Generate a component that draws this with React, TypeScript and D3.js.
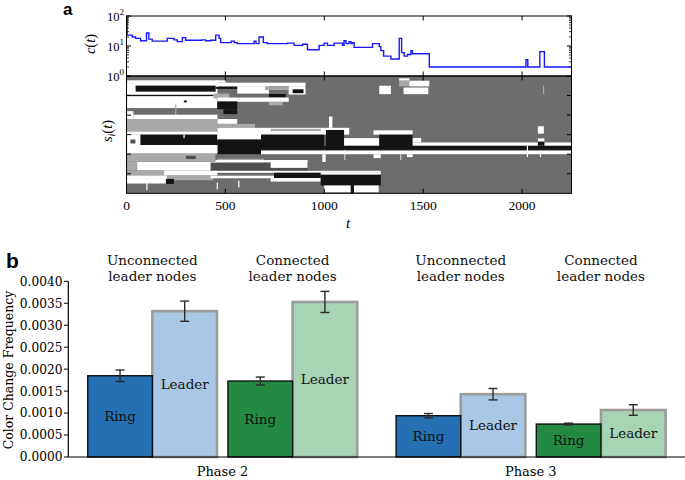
import * as d3 from 'd3';
import { useEffect, useRef } from 'react';

const WIDTH = 685;
const HEIGHT = 480;

// ---- panel a: number of colours c(t) ----
const cTimes = [0, 3, 29, 46, 71, 101, 113, 130, 206, 240, 257, 282, 299, 380, 400, 425, 451, 468, 476, 530,
  545, 560, 630, 645, 655, 670, 692, 712, 814, 847, 890, 915, 974, 999, 1016, 1050, 1092, 1100, 1110, 1125,
  1135, 1142, 1151, 1244, 1278, 1286, 1300, 1337, 1379, 1391, 1404, 1421, 1438, 1446, 1531, 2020, 2029, 2090, 2113, 2250];
const cValues = [80, 23, 20, 18, 15, 27, 17, 14.5, 18, 16, 14, 19, 15.5, 16, 15, 15.5, 23, 18, 13, 14.5,
  13, 12, 12, 14.5, 12, 20, 13, 12, 12.5, 10.5, 11.5, 7.5, 10.5, 12.5, 10.5, 12.5, 10.5, 15, 12, 14,
  12, 13, 9, 12, 9.5, 7, 4.6, 3.7, 18, 6, 4.6, 5.2, 7, 5.5, 2, 3.5, 2, 6.5, 2, 2];

// ---- panel a: node states s_i(t) : [tStart, tEnd, rowStart, rowEnd, state] ----
const rasterCells: [number, number, number, number, string][] = [
  [3, 460, 2.2, 16.4, 'W'],
  [46, 451, 4.9, 8.0, 'B'],
  [3, 440, 9.6, 10.3, 'B'],
  [451, 500, 2.2, 3.4, 'W'],
  [451, 905, 3.4, 5.2, 'W'],
  [451, 590, 5.6, 6.6, 'B'],
  [560, 720, 5.2, 9.0, 'W'],
  [700, 820, 5.3, 7.2, 'L'],
  [820, 905, 5.2, 9.5, 'W'],
  [840, 895, 6.8, 8.8, 'B'],
  [440, 520, 9.0, 11.5, 'L'],
  [720, 805, 9.2, 11.0, 'B'],
  [460, 820, 11.0, 13.2, 'W'],
  [720, 790, 13.2, 15.0, 'L'],
  [459, 560, 13.0, 17.0, 'B'],
  [490, 560, 17.0, 19.5, 'B'],
  [290, 305, 12.5, 13.5, 'B'],
  [246, 252, 14.5, 22.0, 'L'],
  [3, 35, 18.0, 24.0, 'W'],
  [35, 460, 19.8, 22.0, 'W'],
  [3, 460, 22.0, 28.4, 'L'],
  [3, 460, 28.4, 30.0, 'W'],
  [460, 560, 22.0, 24.5, 'W'],
  [460, 650, 24.5, 26.5, 'L'],
  [460, 1126, 26.5, 30.0, 'W'],
  [729, 982, 27.0, 28.2, 'L'],
  [1024, 1041, 20.7, 26.5, 'W'],
  [3, 71, 30.0, 35.3, 'W'],
  [71, 459, 30.0, 35.3, 'B'],
  [20, 45, 32.5, 34.5, 'D'],
  [288, 294, 30.0, 31.8, 'W'],
  [459, 680, 29.5, 32.5, 'W'],
  [459, 680, 32.5, 40.0, 'B'],
  [680, 1000, 30.0, 37.8, 'B'],
  [1008, 1100, 27.6, 37.8, 'B'],
  [1100, 1278, 31.8, 35.7, 'W'],
  [1249, 1447, 27.8, 30.0, 'W'],
  [1278, 1447, 30.0, 37.0, 'B'],
  [1447, 1490, 31.7, 34.0, 'W'],
  [1447, 2250, 34.0, 35.7, 'W'],
  [1000, 2250, 35.7, 37.8, 'B'],
  [3, 460, 35.3, 39.7, 'W'],
  [680, 2250, 38.2, 40.0, 'W'],
  [3, 450, 39.7, 43.9, 'L'],
  [300, 350, 40.8, 42.5, 'D'],
  [459, 695, 42.3, 44.5, 'L'],
  [990, 1007, 40.0, 44.0, 'W'],
  [1249, 1286, 40.0, 42.0, 'W'],
  [1418, 1447, 40.0, 41.5, 'W'],
  [1102, 1106, 37.8, 43.0, 'W'],
  [1385, 1389, 40.0, 43.0, 'W'],
  [2024, 2030, 35.7, 41.5, 'W'],
  [2090, 2096, 40.0, 41.5, 'W'],
  [2080, 2110, 25.7, 29.5, 'W'],
  [2080, 2113, 31.9, 33.6, 'W'],
  [2080, 2113, 33.6, 35.7, 'B'],
  [2106, 2112, 5.0, 9.3, 'L'],
  [1278, 1337, 5.0, 9.3, 'W'],
  [1379, 1430, 1.2, 5.3, 'L'],
  [1379, 1430, 1.2, 2.2, 'W'],
  [1430, 1531, 2.4, 5.3, 'W'],
  [1401, 1526, 5.9, 9.3, 'W'],
  [3, 54, 44.0, 48.3, 'L'],
  [54, 459, 44.0, 48.3, 'W'],
  [3, 190, 48.3, 50.9, 'L'],
  [190, 459, 48.3, 50.9, 'W'],
  [3, 206, 50.9, 55.0, 'W'],
  [206, 440, 50.9, 53.3, 'L'],
  [199, 240, 52.6, 55.2, 'B'],
  [100, 106, 54.5, 58.5, 'W'],
  [456, 462, 54.5, 58.0, 'W'],
  [565, 571, 53.5, 57.0, 'W'],
  [450, 915, 43.0, 44.3, 'W'],
  [425, 915, 44.3, 48.5, 'D'],
  [729, 915, 43.0, 47.0, 'W'],
  [425, 1286, 48.5, 49.5, 'W'],
  [425, 746, 51.0, 52.3, 'W'],
  [746, 982, 49.5, 52.2, 'B'],
  [729, 982, 52.2, 54.0, 'W'],
  [982, 1286, 49.5, 50.5, 'W'],
  [982, 1286, 50.5, 56.0, 'B'],
  [1000, 1134, 56.0, 59.5, 'W'],
  [1150, 1275, 56.0, 59.5, 'W'],
  [1134, 1150, 55.0, 60.0, 'B'],
];
const stateColors: Record<string, string> = {
  W: '#ffffff',
  B: '#131313',
  L: '#a9a9a9',
  D: '#4e4e4e',
};
const tTicks = [0, 500, 1000, 1500, 2000];
const rowTicks = [10, 20, 30, 40, 50];
const cMajorTicks = [1, 10, 100];
const cExponents = ['0', '1', '2'];

// ---- panel b: colour change frequency ----
const phases = ['Phase 2', 'Phase 3'];
const groups = ['unconnected', 'connected'];
const groupLabels = [['Unconnected', 'leader nodes'], ['Connected', 'leader nodes']];
const kinds = ['Ring', 'Leader'];
// order: Phase 2 unconnected, Phase 2 connected, Phase 3 unconnected, Phase 3 connected
const ringMeans = [0.00185, 0.00173, 0.00094, 0.00075];
const ringErrors = [0.00013, 0.00009, 0.00005, 0.00002];
const leaderMeans = [0.00332, 0.00353, 0.00143, 0.00107];
const leaderErrors = [0.00023, 0.00024, 0.00013, 0.00012];
const freqTicks = [0, 0.0005, 0.001, 0.0015, 0.002, 0.0025, 0.003, 0.0035, 0.004];

const ringColors = ['#2470b3', '#248a42'];
const leaderColors = ['#a8c8e5', '#a6d4b4'];
const serif = "'DejaVu Serif', serif";
const mathSerif = "'Liberation Serif', 'Times New Roman', serif";

function App() {
  const svgElement = useRef<SVGSVGElement | null>(null);

  useEffect(() => {
    if (svgElement.current) {
      drawChart();
    }
  }, []);

  const drawChart = () => {
    const svg = d3.select(svgElement.current);
    svg.selectAll('*').remove();

    const tX = d3.scaleLinear().domain([0, 2250]).range([126.5, 571.5]);
    const cY = d3.scaleLog().domain([1, 100]).range([76, 16]);
    const rowY = d3.scaleLinear().domain([0, 60]).range([76, 193.3]);

    const a = svg.append('g');

    // raster
    a.append('rect')
      .attr('x', tX(0))
      .attr('y', rowY(0))
      .attr('width', tX(2250) - tX(0))
      .attr('height', rowY(60) - rowY(0))
      .attr('fill', '#6d6d6d');

    a.append('g')
      .selectAll('rect')
      .data(rasterCells)
      .join('rect')
      .attr('x', (d) => tX(d[0]))
      .attr('y', (d) => rowY(d[2]))
      .attr('width', (d) => tX(d[1]) - tX(d[0]))
      .attr('height', (d) => rowY(d[3]) - rowY(d[2]))
      .attr('fill', (d) => stateColors[d[4]]);

    // c(t) line
    svg.append('clipPath')
      .attr('id', 'topClip')
      .append('rect')
      .attr('x', tX(0))
      .attr('y', cY(100))
      .attr('width', tX(2250) - tX(0))
      .attr('height', cY(1) - cY(100));

    const line = d3.line<number>()
      .x((d, i) => tX(cTimes[i]))
      .y((d) => cY(d))
      .curve(d3.curveStepAfter);

    a.append('path')
      .attr('clip-path', 'url(#topClip)')
      .attr('d', line(cValues) as string)
      .attr('fill', 'none')
      .attr('stroke', '#1616ff')
      .attr('stroke-width', 1.4);

    // frames
    const frames = [[cY(100), cY(1)], [rowY(0), rowY(60)]];
    frames.forEach(([y0, y1]) => {
      a.append('rect')
        .attr('x', tX(0))
        .attr('y', y0)
        .attr('width', tX(2250) - tX(0))
        .attr('height', y1 - y0)
        .attr('fill', 'none')
        .attr('stroke', '#000')
        .attr('stroke-width', 1);

      a.append('g')
        .selectAll('line')
        .data(tTicks.slice(1))
        .join('line')
        .attr('x1', (d) => tX(d))
        .attr('x2', (d) => tX(d))
        .attr('y1', y0)
        .attr('y2', y0 + 4.5)
        .attr('stroke', '#000');

      a.append('g')
        .selectAll('line')
        .data(tTicks.slice(1))
        .join('line')
        .attr('x1', (d) => tX(d))
        .attr('x2', (d) => tX(d))
        .attr('y1', y1)
        .attr('y2', y1 - 4.5)
        .attr('stroke', '#000');
    });

    // log ticks on top panel
    const minor = cY.ticks().filter((d) => !cMajorTicks.includes(d));
    [tX(0), tX(2250)].forEach((x, side) => {
      const dir = side === 0 ? 1 : -1;
      a.append('g')
        .selectAll('line')
        .data(minor)
        .join('line')
        .attr('x1', x)
        .attr('x2', x + dir * 2.5)
        .attr('y1', (d) => cY(d))
        .attr('y2', (d) => cY(d))
        .attr('stroke', '#000')
        .attr('stroke-width', 0.8);
      a.append('g')
        .selectAll('line')
        .data(cMajorTicks)
        .join('line')
        .attr('x1', x)
        .attr('x2', x + dir * 4.5)
        .attr('y1', (d) => cY(d))
        .attr('y2', (d) => cY(d))
        .attr('stroke', '#000');
      a.append('g')
        .selectAll('line')
        .data(rowTicks)
        .join('line')
        .attr('x1', x)
        .attr('x2', x + dir * 4.5)
        .attr('y1', (d) => rowY(d))
        .attr('y2', (d) => rowY(d))
        .attr('stroke', '#000');
    });

    // log labels
    const cLabels = a.append('g')
      .selectAll('text')
      .data(cMajorTicks)
      .join('text')
      .attr('x', 124)
      .attr('y', (d) => cY(d) + 4.5)
      .attr('text-anchor', 'end')
      .style('font-family', mathSerif)
      .style('font-size', '12.5px');
    cLabels.append('tspan').text('10');
    cLabels.append('tspan')
      .attr('dy', -5.5)
      .style('font-size', '9px')
      .text((d, i) => cExponents[i]);

    // t labels
    a.append('g')
      .selectAll('text')
      .data(tTicks)
      .join('text')
      .attr('x', (d) => tX(d))
      .attr('y', 209.5)
      .attr('text-anchor', 'middle')
      .style('font-family', mathSerif)
      .style('font-size', '13.5px')
      .text((d) => d);

    a.append('text')
      .attr('x', 348)
      .attr('y', 228)
      .attr('text-anchor', 'middle')
      .style('font-family', mathSerif)
      .style('font-style', 'italic')
      .style('font-size', '15px')
      .text('t');

    const cLabel = a.append('text')
      .attr('transform', 'translate(95,44) rotate(-90)')
      .attr('text-anchor', 'middle')
      .style('font-family', mathSerif)
      .style('font-size', '14.5px');
    cLabel.append('tspan').style('font-style', 'italic').text('c');
    cLabel.append('tspan').text('(');
    cLabel.append('tspan').style('font-style', 'italic').text('t');
    cLabel.append('tspan').text(')');

    const sLabel = a.append('text')
      .attr('transform', 'translate(112,131) rotate(-90)')
      .attr('text-anchor', 'middle')
      .style('font-family', mathSerif)
      .style('font-size', '14.5px');
    sLabel.append('tspan').style('font-style', 'italic').text('s');
    sLabel.append('tspan').attr('dy', 3).style('font-style', 'italic').style('font-size', '10px').text('i');
    sLabel.append('tspan').attr('dy', -3).text('(');
    sLabel.append('tspan').style('font-style', 'italic').text('t');
    sLabel.append('tspan').text(')');

    svg.append('text')
      .attr('x', 63)
      .attr('y', 14.5)
      .style('font-family', "'Liberation Sans', Arial, sans-serif")
      .style('font-weight', 'bold')
      .style('font-size', '17px')
      .text('a');

    // ---- panel b ----
    const b = svg.append('g');
    const freqY = d3.scaleLinear().domain([0, 0.004]).range([457, 281.3]);
    const outerX = d3.scaleBand().domain(phases).range([68.3, 685]).paddingInner(0.126).paddingOuter(0.063);
    const groupX = d3.scaleBand().domain(groups).range([0, outerX.bandwidth()]).paddingInner(0.078);
    const kindX = d3.scaleBand().domain(kinds).range([0, groupX.bandwidth()]);

    const bars = phases.flatMap((p, i) =>
      groups.map((g, j) => ({
        phase: p,
        group: g,
        gi: j,
        idx: i * 2 + j,
        x0: (outerX(p) ?? 0) + (groupX(g) ?? 0),
      })),
    );

    bars.forEach((d) => {
      const lx = d.x0 + (kindX('Leader') ?? 0);
      const rx = d.x0 + (kindX('Ring') ?? 0);
      const w = kindX.bandwidth();

      b.append('rect')
        .attr('x', lx)
        .attr('y', freqY(leaderMeans[d.idx]))
        .attr('width', w)
        .attr('height', freqY(0) - freqY(leaderMeans[d.idx]))
        .attr('fill', leaderColors[d.gi])
        .attr('stroke', '#9c9c9c')
        .attr('stroke-width', 2.6);

      b.append('rect')
        .attr('x', rx)
        .attr('y', freqY(ringMeans[d.idx]))
        .attr('width', w)
        .attr('height', freqY(0) - freqY(ringMeans[d.idx]))
        .attr('fill', ringColors[d.gi])
        .attr('stroke', '#111')
        .attr('stroke-width', 1.4);

      const errs = [
        [rx + w / 2, ringMeans[d.idx], ringErrors[d.idx]],
        [lx + w / 2, leaderMeans[d.idx], leaderErrors[d.idx]],
      ];
      errs.forEach(([cx, m, e]) => {
        const eg = b.append('g').attr('stroke', '#2a2a2a').attr('stroke-width', 1.4);
        eg.append('line').attr('x1', cx).attr('x2', cx).attr('y1', freqY(m - e)).attr('y2', freqY(m + e));
        eg.append('line').attr('x1', cx - 4.5).attr('x2', cx + 4.5).attr('y1', freqY(m - e)).attr('y2', freqY(m - e));
        eg.append('line').attr('x1', cx - 4.5).attr('x2', cx + 4.5).attr('y1', freqY(m + e)).attr('y2', freqY(m + e));
      });

      const labels = [
        [rx + w / 2, ringMeans[d.idx], 'Ring'],
        [lx + w / 2, leaderMeans[d.idx], 'Leader'],
      ];
      labels.forEach(([cx, m, txt]) => {
        b.append('text')
          .attr('x', cx as number)
          .attr('y', freqY((m as number) / 2))
          .attr('dy', '0.35em')
          .attr('text-anchor', 'middle')
          .style('font-family', serif)
          .style('font-size', '13.5px')
          .attr('fill', '#111')
          .text(txt as string);
      });

      const gl = b.append('text')
        .attr('text-anchor', 'middle')
        .style('font-family', serif)
        .style('font-size', '13.5px')
        .attr('fill', '#111');
      groupLabels[d.gi].forEach((s, k) => {
        gl.append('tspan')
          .attr('x', d.x0 + groupX.bandwidth() / 2)
          .attr('y', 265 + k * 16)
          .text(s);
      });
    });

    // axes
    b.append('line')
      .attr('x1', 68.3).attr('x2', 68.3)
      .attr('y1', freqY(0)).attr('y2', freqY(0.004))
      .attr('stroke', '#000').attr('stroke-width', 1.2);
    b.append('line')
      .attr('x1', 68.3).attr('x2', 685)
      .attr('y1', freqY(0)).attr('y2', freqY(0))
      .attr('stroke', '#000').attr('stroke-width', 1.2);

    b.append('g')
      .selectAll('line')
      .data(freqTicks)
      .join('line')
      .attr('x1', 64)
      .attr('x2', 68.3)
      .attr('y1', (d) => freqY(d))
      .attr('y2', (d) => freqY(d))
      .attr('stroke', '#000');

    b.append('g')
      .selectAll('text')
      .data(freqTicks)
      .join('text')
      .attr('x', 62.5)
      .attr('y', (d) => freqY(d))
      .attr('dy', '0.36em')
      .attr('text-anchor', 'end')
      .style('font-family', serif)
      .style('font-size', '12.2px')
      .text((d) => d3.format('.4f')(d));

    b.append('g')
      .selectAll('text')
      .data(phases)
      .join('text')
      .attr('x', (d) => (outerX(d) ?? 0) + outerX.bandwidth() / 2)
      .attr('y', 476)
      .attr('text-anchor', 'middle')
      .style('font-family', serif)
      .style('font-size', '13px')
      .text((d) => d);

    b.append('text')
      .attr('transform', 'translate(13,370) rotate(-90)')
      .attr('text-anchor', 'middle')
      .style('font-family', serif)
      .style('font-size', '12.5px')
      .text('Color Change Frequency');

    svg.append('text')
      .attr('x', 6)
      .attr('y', 268)
      .style('font-family', "'Liberation Sans', Arial, sans-serif")
      .style('font-weight', 'bold')
      .style('font-size', '21px')
      .text('b');
  };

  return (
    <svg
      ref={svgElement}
      width={WIDTH}
      height={HEIGHT}
      style={{ position: 'absolute', left: 0, top: 0, background: '#fff' }}
    />
  );
}

export default App;
